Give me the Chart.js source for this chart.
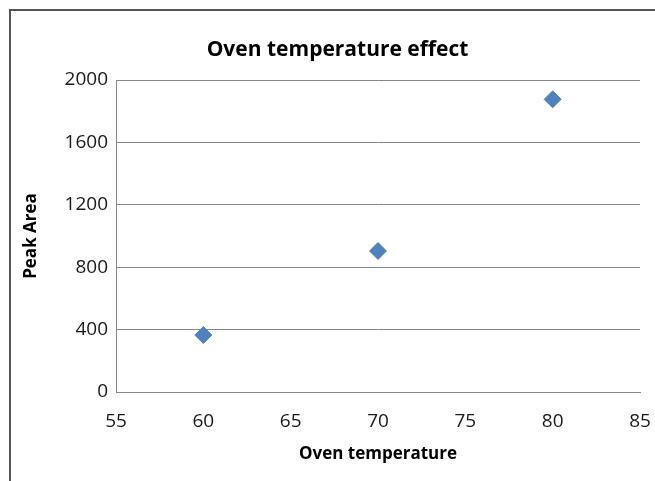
<!DOCTYPE html>
<html>
<head>
<meta charset="utf-8">
<script src="https://cdn.jsdelivr.net/npm/chart.js@4"></script>
<style>
    html, body { margin: 0; padding: 0; background: #fff; }
    #wrap { position: relative; width: 655px; height: 481px; overflow: hidden; }
    #frame {
        position: absolute; left: 9px; top: 9px; width: 700px; height: 520px;
        border-left: 2px solid #555; border-top: 2px solid #555;
    }
    #ovenChart { position: absolute; left: 0; top: 0; }
</style>
</head>
<body>
<div id="wrap">
    <div id="frame"></div>
    <canvas id="ovenChart" width="655" height="481"></canvas>
</div>
<script>
const chartTitle = "Oven temperature effect";
const xLabel = "Oven temperature";
const yLabel = "Peak Area";
const temperatures = [60, 70, 80];
const peakAreas = [365, 904, 1876];
const xTicks = [55, 85, 5];   // min, max, step
const yTicks = [0, 2000, 400];

const markerColor = "#4F81BD";
const gridColor = "#878787";

// chart title drawn by hand so it can sit a bit right of the canvas centre, like Excel does
const titlePlugin = {
    id: "ovenTitle",
    afterDraw(chart) {
        const ctx = chart.ctx;
        ctx.save();
        ctx.font = "bold 21px 'Open Sans'";
        ctx.fillStyle = "#000";
        ctx.textAlign = "center";
        ctx.textBaseline = "middle";
        ctx.fillText(chartTitle, chart.width / 2 + 10, 50);
        ctx.restore();
    },
};

document.addEventListener("DOMContentLoaded", function () {
    const points = temperatures.map((t, i) => ({ x: t, y: peakAreas[i] }));
    const ctx = document.getElementById("ovenChart").getContext("2d");
    const ovenChart = new Chart(ctx, {
        type: "scatter",
        data: {
            datasets: [
                {
                    label: yLabel,
                    data: points,
                    pointStyle: "rectRot",
                    pointRadius: 8.5,
                    pointHoverRadius: 8.5,
                    backgroundColor: markerColor,
                    borderColor: markerColor,
                    borderWidth: 1,
                },
            ],
        },
        options: {
            responsive: false,
            animation: false,
            layout: {
                padding: { top: 80, right: 15, bottom: 0, left: 10 },
            },
            plugins: {
                legend: { display: false },
                tooltip: { enabled: false },
            },
            scales: {
                x: {
                    type: "linear",
                    min: xTicks[0],
                    max: xTicks[1],
                    afterFit: (scale) => {
                        scale.height = 89;
                        // the "85" label may hang past the plot, keep the plot edge where Excel has it
                        scale.paddingLeft = 0;
                        scale.paddingRight = 0;
                    },
                    grid: { display: false, drawTicks: false },
                    border: { display: true, color: gridColor, width: 1 },
                    ticks: {
                        stepSize: xTicks[2],
                        padding: 18,
                        color: "#1a1a1a",
                        font: { family: "'Open Sans'", size: 19 },
                    },
                    title: {
                        display: true,
                        text: xLabel,
                        color: "#000",
                        font: { family: "'Open Sans'", size: 17, weight: "bold" },
                        padding: { top: 0, bottom: 17 },
                    },
                },
                y: {
                    min: yTicks[0],
                    max: yTicks[1],
                    afterFit: (scale) => { scale.width = 106; },
                    grid: { color: gridColor, drawTicks: false },
                    border: { display: true, color: gridColor, width: 1 },
                    ticks: {
                        stepSize: yTicks[2],
                        padding: 8,
                        color: "#1a1a1a",
                        font: { family: "'Open Sans'", size: 19 },
                        callback: (value) => String(value),
                    },
                    title: {
                        display: true,
                        text: yLabel,
                        color: "#000",
                        font: { family: "'Open Sans'", size: 17, weight: "bold" },
                        padding: { top: 11, bottom: 0 },
                    },
                },
            },
        },
        plugins: [titlePlugin],
    });
});
</script>
</body>
</html>
